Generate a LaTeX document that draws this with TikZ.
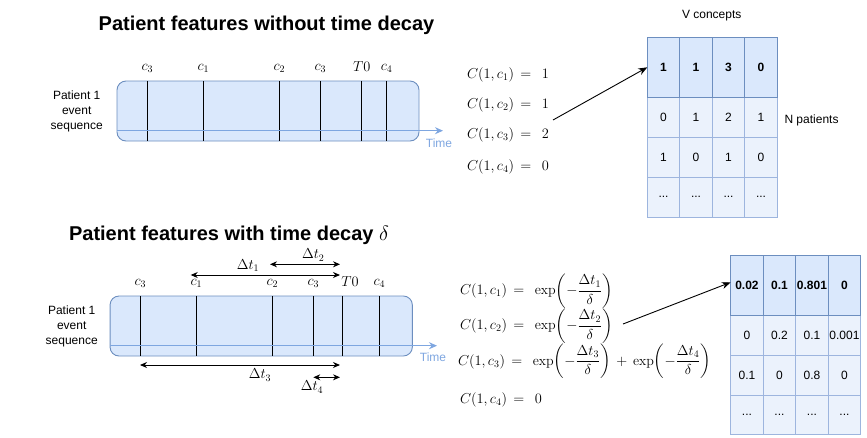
\documentclass[tikz,border=0pt]{standalone}
\usepackage{amsmath}
\usepackage{fontspec}
\setsansfont{Liberation Sans}
\usetikzlibrary{arrows.meta}
\definecolor{boxfill}{HTML}{DAE8FC}
\definecolor{boxline}{HTML}{6C8EBF}
\definecolor{cellfill}{HTML}{EBF2FC}
\definecolor{cellline}{HTML}{9DB5DE}
\definecolor{timeblue}{HTML}{7EA6E0}
\tikzset{
  x=1pt, y=-1pt,
  every node/.style={inner sep=0pt, outer sep=0pt},
  title/.style={font=\sffamily\bfseries\fontsize{20}{24}\selectfont, anchor=center},
  lab/.style={font=\sffamily\fontsize{12}{15}\selectfont, align=center},
  seqbox/.style={draw=boxline, fill=boxfill, rounded corners=9pt, line width=0.9pt},
  evline/.style={draw=black, line width=0.9pt},
  timearrow/.style={draw=timeblue, line width=1.1pt, -{Stealth[length=8pt,width=7pt]}},
  timelab/.style={font=\sffamily\fontsize{12}{14}\selectfont, text=timeblue},
  mlab/.style={font=\fontsize{14}{17}\selectfont},
  dtarrow/.style={draw=black, line width=0.9pt, {Stealth[length=7pt,width=6pt]}-{Stealth[length=7pt,width=6pt]}},
  maparrow/.style={draw=black, line width=0.9pt, -{Stealth[length=9pt,width=7pt]}},
  hcell/.style={draw=boxline, fill=boxfill, line width=0.9pt, minimum width=32.5pt, minimum height=60pt, font=\sffamily\bfseries\fontsize{12}{14}\selectfont},
  bcell/.style={draw=cellline, fill=cellfill, line width=0.9pt, minimum width=32.5pt, minimum height=40pt, font=\sffamily\fontsize{12}{14}\selectfont},
}
\begin{document}
\begin{tikzpicture}
\useasboundingbox (0,0) rectangle (867,437);

% ---------------- top part ----------------
\node[title] (t1) at (266.5,25) {Patient features without time decay};
\node[lab] (p1) at (76.7,111.7) {Patient 1\\event\\sequence};
\node[seqbox, minimum width=302pt, minimum height=60pt] (box1) at (268,111) {};
\foreach \x in {147.3,203.3,279.3,320.3,361.7,386.7}
  \draw[evline] (\x,81) -- (\x,141);
\coordinate (ta1s) at (117,130.7);
\coordinate (ta1e) at (443,130.7);
\draw[timearrow] (ta1s) -- (ta1e);
\node[timelab] (time1) at (439,143) {Time};
\node[mlab] (l1a) at (147.3,68) {$c_3$};
\node[mlab] (l1b) at (203.3,68) {$c_1$};
\node[mlab] (l1c) at (279.3,68) {$c_2$};
\node[mlab] (l1d) at (320.3,68) {$c_3$};
\node[mlab] (l1e) at (361.7,66.5) {$T0$};
\node[mlab] (l1f) at (386.7,68) {$c_4$};

\node[mlab, anchor=west] (eqa1) at (467,75) {$C(1,c_1)\,=\;\,1$};
\node[mlab, anchor=west] (eqa2) at (467,105) {$C(1,c_2)\,=\;\,1$};
\node[mlab, anchor=west] (eqa3) at (467,135) {$C(1,c_3)\,=\;\,2$};
\node[mlab, anchor=west] (eqa4) at (467,166.5) {$C(1,c_4)\,=\;\,0$};

% top matrix
\node[lab] (vc) at (711.7,16) {V concepts};
\node[lab, anchor=west] (np) at (784.5,120.7) {N patients};
\node[bcell] (a21) at (663.55,117.3) {0};
\node[bcell] (a22) at (696.05,117.3) {1};
\node[bcell] (a23) at (728.55,117.3) {2};
\node[bcell] (a24) at (761.05,117.3) {1};
\node[bcell] (a31) at (663.55,157.3) {1};
\node[bcell] (a32) at (696.05,157.3) {0};
\node[bcell] (a33) at (728.55,157.3) {1};
\node[bcell] (a34) at (761.05,157.3) {0};
\node[bcell] (a41) at (663.55,197.3) {...};
\node[bcell] (a42) at (696.05,197.3) {...};
\node[bcell] (a43) at (728.55,197.3) {...};
\node[bcell] (a44) at (761.05,197.3) {...};
\node[hcell] (a11) at (663.55,67.3) {1};
\node[hcell] (a12) at (696.05,67.3) {1};
\node[hcell] (a13) at (728.55,67.3) {3};
\node[hcell] (a14) at (761.05,67.3) {0};
\coordinate (arrA) at (553,120);
\draw[maparrow] (arrA) -- (a11.west);

% ---------------- bottom part ----------------
\node[title] (t2) at (229,235) {Patient features with time decay $\delta$};
\node[lab] (p2) at (71.7,326.5) {Patient 1\\event\\sequence};
\node[seqbox, minimum width=302.3pt, minimum height=60pt] (box2) at (261.2,326) {};
\foreach \x in {140.3,196.3,272.3,313.3,342.3,379.3}
  \draw[evline] (\x,296) -- (\x,356);
\coordinate (ta2s) at (110,345.7);
\coordinate (ta2e) at (437,345.7);
\draw[timearrow] (ta2s) -- (ta2e);
\node[timelab] (time2) at (433,357.5) {Time};
\node[mlab] (l2a) at (140.3,283) {$c_3$};
\node[mlab] (l2b) at (196.3,283) {$c_1$};
\node[mlab] (l2c) at (272.3,283) {$c_2$};
\node[mlab] (l2d) at (313.3,283) {$c_3$};
\node[mlab] (l2e) at (350,281.5) {$T0$};
\node[mlab] (l2f) at (379.3,283) {$c_4$};

\coordinate (d1s) at (190.7,275);
\coordinate (d1e) at (340,275);
\draw[dtarrow] (d1s) -- (d1e);
\node[mlab] (dl1) at (248,265.5) {$\Delta t_1$};
\coordinate (d2s) at (270,264.3);
\coordinate (d2e) at (340,264.3);
\draw[dtarrow] (d2s) -- (d2e);
\node[mlab] (dl2) at (313.3,255) {$\Delta t_2$};
\coordinate (d3s) at (140,365);
\coordinate (d3e) at (340,365);
\draw[dtarrow] (d3s) -- (d3e);
\node[mlab] (dl3) at (260,375) {$\Delta t_3$};
\coordinate (d4s) at (313.3,377.3);
\coordinate (d4e) at (340,377.3);
\draw[dtarrow] (d4s) -- (d4e);
\node[mlab] (dl4) at (312,387) {$\Delta t_4$};

\node[mlab, anchor=west] (eqb1) at (460,291) {$C(1,c_1)\,=\;\,\exp\!\left(-\dfrac{\Delta t_1}{\delta}\right)$};
\node[mlab, anchor=west] (eqb2) at (460,326) {$C(1,c_2)\,=\;\,\exp\!\left(-\dfrac{\Delta t_2}{\delta}\right)$};
\node[mlab, anchor=west] (eqb3) at (458,361.5) {$C(1,c_3)\,=\;\,\exp\!\left(-\dfrac{\Delta t_3}{\delta}\right)\,+\,\exp\!\left(-\dfrac{\Delta t_4}{\delta}\right)$};
\node[mlab, anchor=west] (eqb4) at (460,399.5) {$C(1,c_4)\,=\;\,0$};

% bottom matrix
\node[bcell] (b21) at (746.95,335.3) {0};
\node[bcell] (b22) at (779.45,335.3) {0.2};
\node[bcell] (b23) at (811.95,335.3) {0.1};
\node[bcell] (b24) at (844.45,335.3) {0.001};
\node[bcell] (b31) at (746.95,375.3) {0.1};
\node[bcell] (b32) at (779.45,375.3) {0};
\node[bcell] (b33) at (811.95,375.3) {0.8};
\node[bcell] (b34) at (844.45,375.3) {0};
\node[bcell, minimum height=39pt] (b41) at (746.95,414.8) {...};
\node[bcell, minimum height=39pt] (b42) at (779.45,414.8) {...};
\node[bcell, minimum height=39pt] (b43) at (811.95,414.8) {...};
\node[bcell, minimum height=39pt] (b44) at (844.45,414.8) {...};
\node[hcell] (b11) at (746.95,285.3) {0.02};
\node[hcell] (b12) at (779.45,285.3) {0.1};
\node[hcell] (b13) at (811.95,285.3) {0.801};
\node[hcell] (b14) at (844.45,285.3) {0};
\coordinate (arrB) at (623,324);
\draw[maparrow] (arrB) -- ([yshift=3pt]b11.west);
\end{tikzpicture}
\end{document}
